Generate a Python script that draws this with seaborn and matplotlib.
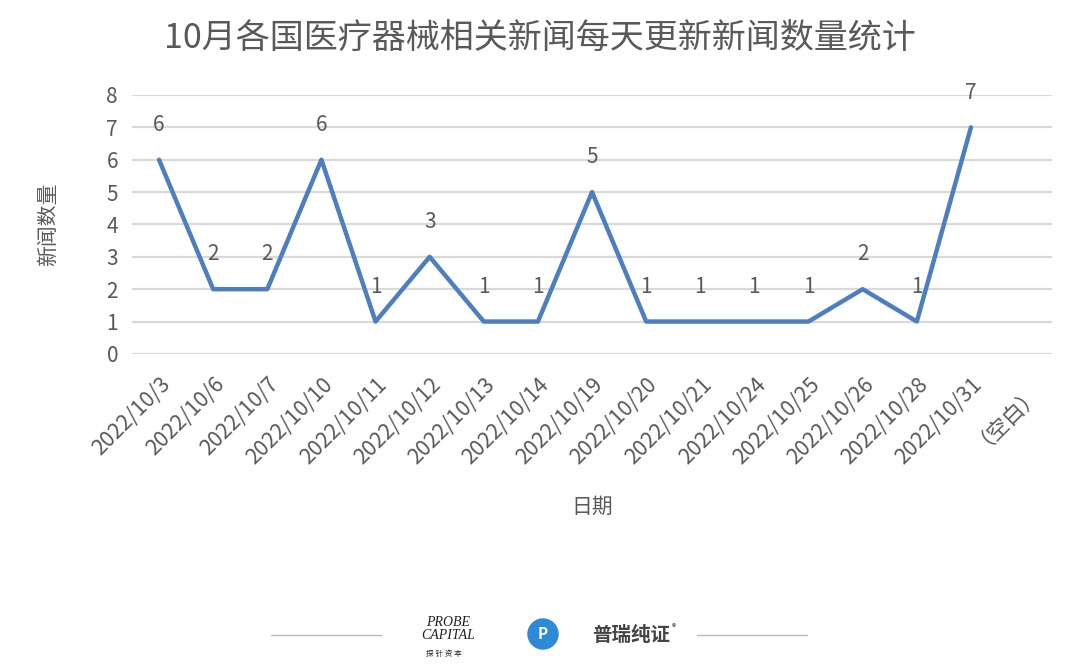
import pandas as pd
import numpy as np
import matplotlib.pyplot as plt
import seaborn as sns
from matplotlib.patches import Circle

# data
dates = ['2022/10/3', '2022/10/6', '2022/10/7', '2022/10/10', '2022/10/11',
         '2022/10/12', '2022/10/13', '2022/10/14', '2022/10/19', '2022/10/20',
         '2022/10/21', '2022/10/24', '2022/10/25', '2022/10/26', '2022/10/28',
         '2022/10/31', '（空白）']
counts = [6, 2, 2, 6, 1, 3, 1, 1, 5, 1, 1, 1, 1, 2, 1, 7, np.nan]
y_ticks = [0, 1, 2, 3, 4, 5, 6, 7, 8]

sns.set_theme(style='white')
plt.rcParams['font.family'] = ['Noto Sans CJK SC', 'DejaVu Sans']

df = pd.DataFrame({'date': dates, 'count': counts})
df['pos'] = range(len(df))

fig = plt.figure(figsize=(10.8, 6.69), dpi=100)
ax = fig.add_axes([0.1222, 0.471, 0.852, 0.387])

grey = '#595959'
line_color = '#4d7fc0'

sns.lineplot(x='pos', y='count', data=df, ax=ax, color=line_color, linewidth=3.2)

for x, y in zip(df['pos'], df['count']):
    if not np.isnan(y):
        ax.annotate(f'{int(y)}', (x, y), xytext=(0, 25), textcoords='offset points',
                    ha='center', va='center', fontsize=15, color=grey)

ax.set_xlim(-0.5, len(dates) - 0.5)
ax.set_ylim(0, 8)
ax.set_yticks(y_ticks)
ax.set_yticklabels([str(t) for t in y_ticks], fontsize=15, color=grey)
ax.set_xticks(df['pos'])
ax.set_xticklabels(dates, rotation=45, ha='right', rotation_mode='anchor',
                   fontsize=15.5, color=grey)
ax.tick_params(axis='y', length=0, pad=10)
ax.tick_params(axis='x', length=0, pad=14)
ax.yaxis.grid(True, color='#d9d9d9', linewidth=1.6)
ax.set_axisbelow(True)
for s in ax.spines.values():
    s.set_visible(False)

ax.set_xlabel('日期', fontsize=15, color=grey, labelpad=20)
ax.set_ylabel('新闻数量', fontsize=15, color=grey, labelpad=34)

fig.text(0.5, 0.943, '10月各国医疗器械相关新闻每天更新新闻数量统计',
         ha='center', va='center', fontsize=24.5, color=grey)

# footer logos
fig.add_artist(plt.Line2D([271 / 1080, 381 / 1080], [0.051, 0.051], color='#bbbbbb', lw=1))
fig.add_artist(plt.Line2D([697 / 1080, 807 / 1080], [0.051, 0.051], color='#bbbbbb', lw=1))
fig.text(0.415, 0.060, 'PROBE\nCAPITAL', fontsize=10, style='italic', color='#222222',
         ha='center', va='center', linespacing=0.95, family='Liberation Serif')
fig.text(0.411, 0.022, '探 针 资 本', fontsize=5.5, color='#222222', ha='center', va='center')
fig.add_artist(Circle((5.43, 0.35), 0.15, transform=fig.dpi_scale_trans,
                      color='#2c8ad6'))
fig.text(0.503, 0.052, 'P', fontsize=11, color='white', ha='center', va='center',
         fontweight='bold')
fig.text(0.548, 0.050, '普瑞纯证', fontsize=14, color='#444444', ha='left', va='center',
         fontweight='bold')
fig.text(0.624, 0.062, '®', fontsize=6, color='#444444', ha='center', va='center')

fig.savefig('out.png', dpi=100)
